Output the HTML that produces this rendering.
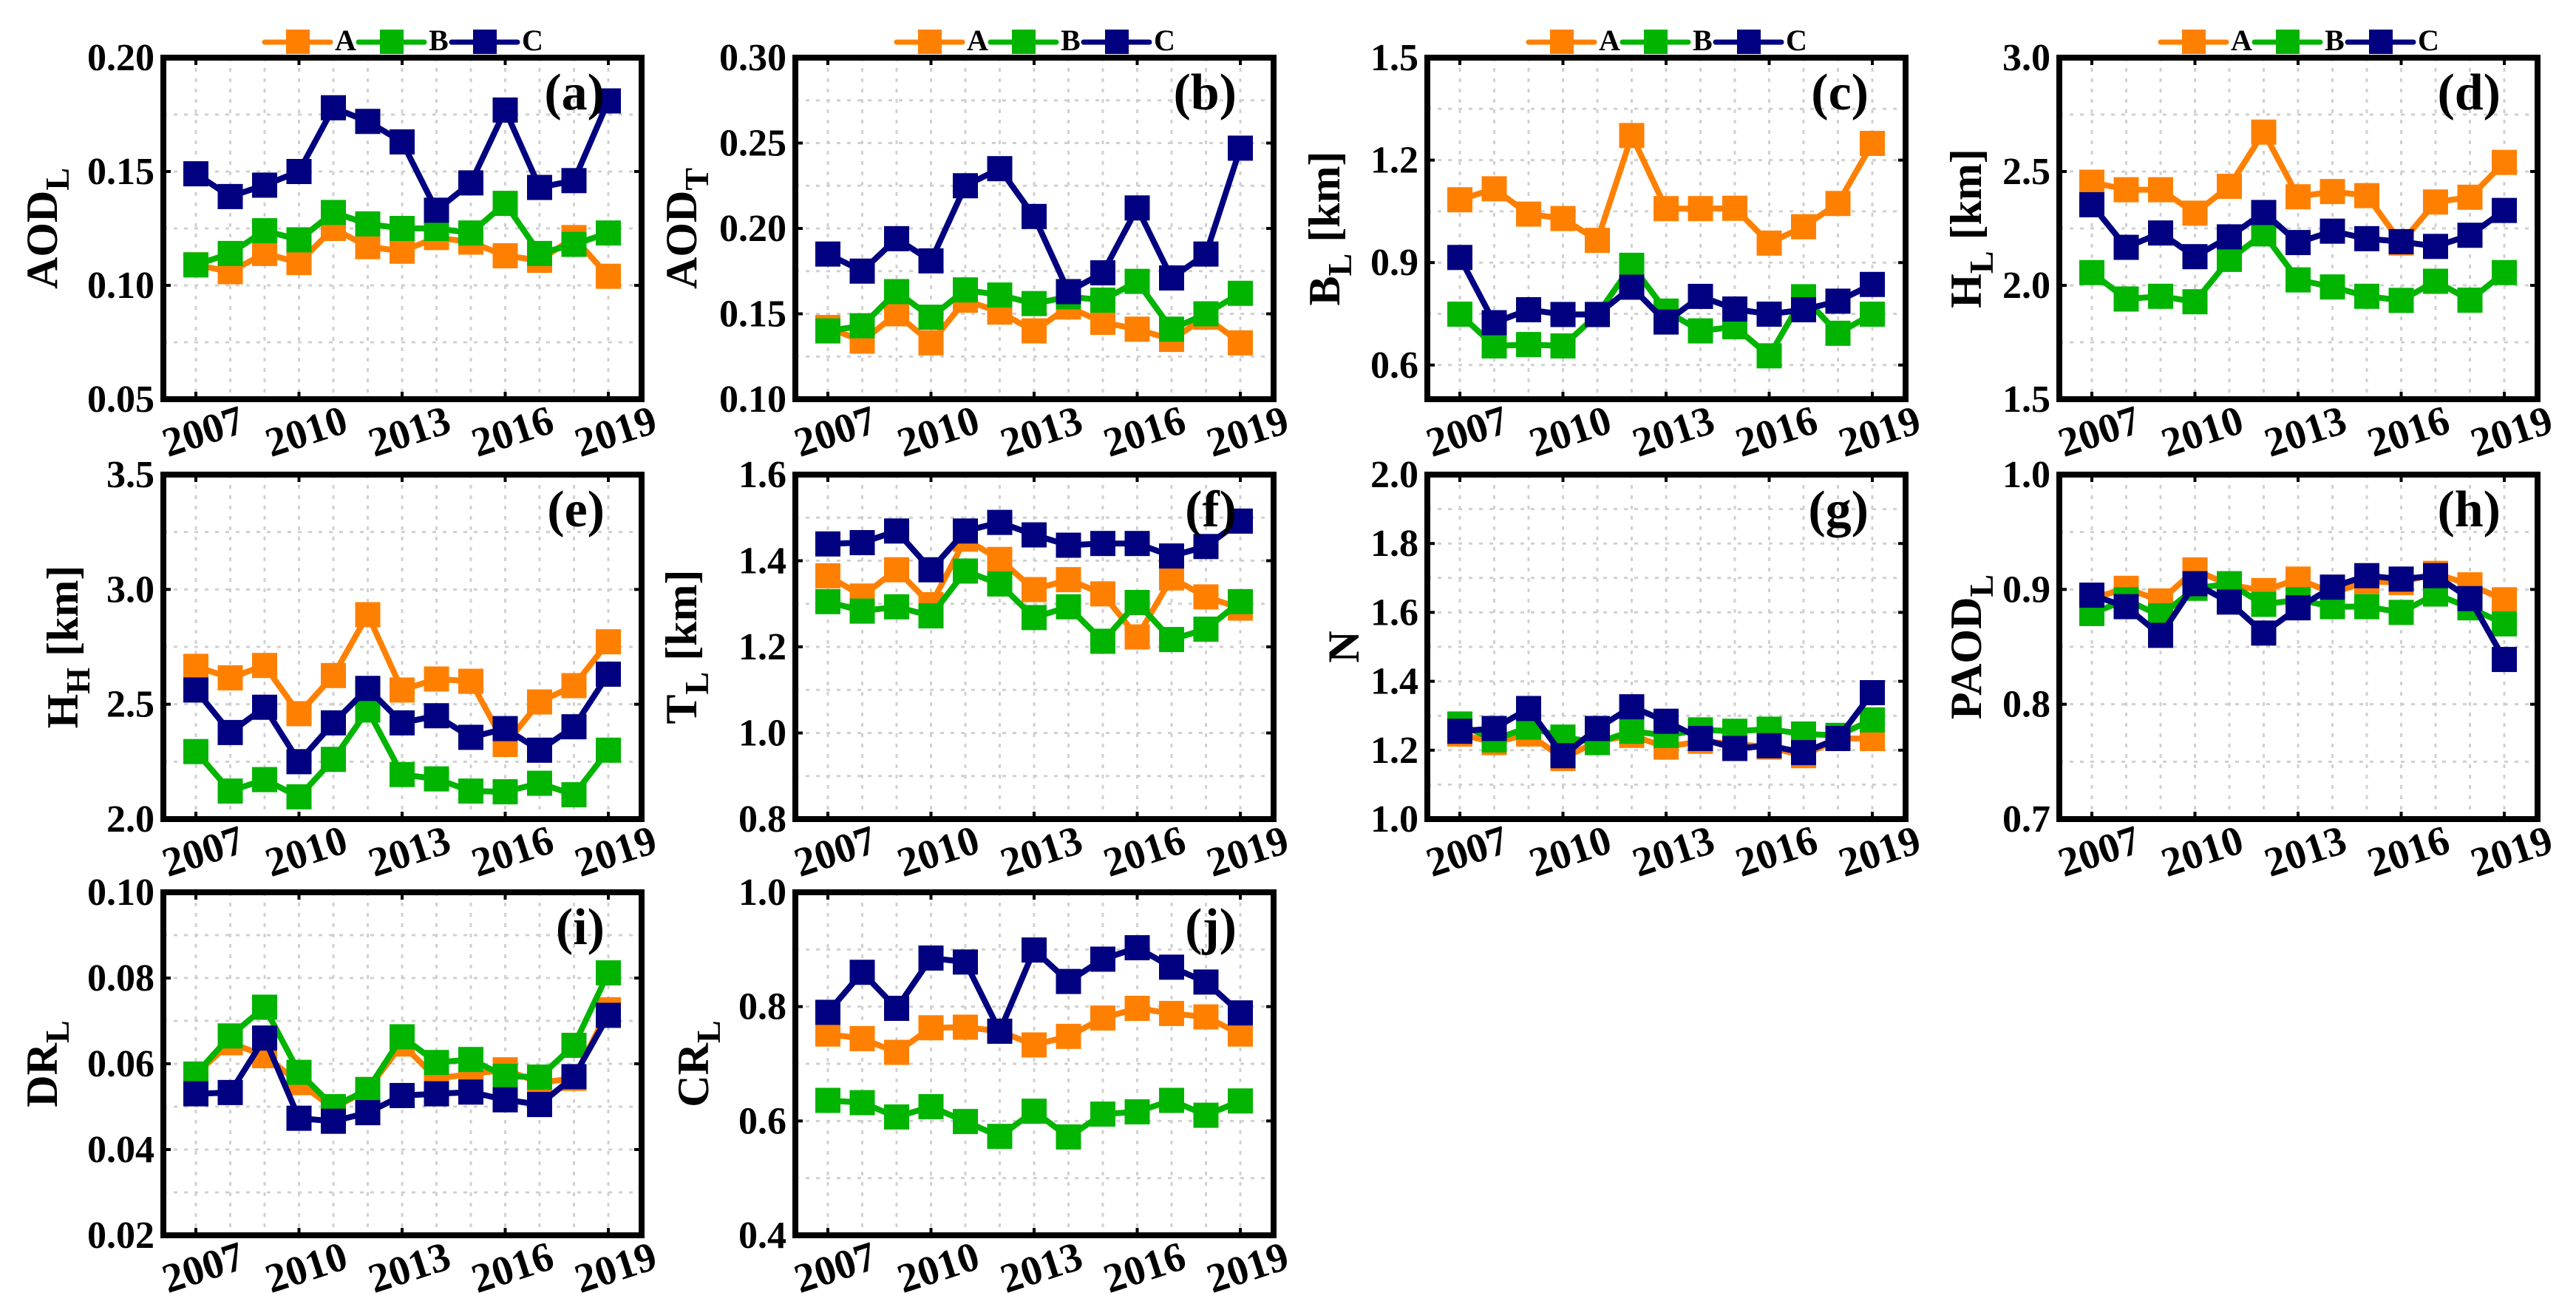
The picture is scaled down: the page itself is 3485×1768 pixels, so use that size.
<!DOCTYPE html>
<html><head><meta charset="utf-8"><style>
html,body{margin:0;padding:0;background:#fff;}
svg{display:block;}
svg text{font-family:"Liberation Serif","DejaVu Serif","Times New Roman",serif;font-weight:bold;}
</style></head><body>
<svg id="fig" width="3485" height="1768" viewBox="0 0 3485 1768" xmlns="http://www.w3.org/2000/svg" font-family="Liberation Serif, DejaVu Serif, serif" font-weight="bold"></svg>
<script>
const years = [2007,2008,2009,2010,2011,2012,2013,2014,2015,2016,2017,2018,2019];
const yearLabels = [2007,2010,2013,2016,2019];
const seriesNames = ["A","B","C"];
const a_A=[0.109,0.106,0.114,0.110,0.125,0.117,0.115,0.121,0.119,0.113,0.111,0.121,0.104];
const a_B=[0.109,0.114,0.124,0.120,0.132,0.127,0.125,0.125,0.123,0.136,0.114,0.118,0.123];
const a_C=[0.149,0.139,0.144,0.150,0.178,0.172,0.163,0.133,0.145,0.177,0.143,0.146,0.181];
const b_A=[0.142,0.134,0.150,0.133,0.158,0.151,0.140,0.154,0.145,0.141,0.135,0.148,0.133];
const b_B=[0.140,0.143,0.163,0.148,0.164,0.161,0.156,0.160,0.158,0.169,0.141,0.150,0.162];
const b_C=[0.185,0.175,0.194,0.181,0.225,0.235,0.207,0.163,0.174,0.212,0.171,0.185,0.247];
const c_A=[1.084,1.116,1.042,1.029,0.965,1.272,1.058,1.058,1.059,0.957,1.005,1.073,1.249];
const c_B=[0.749,0.656,0.660,0.656,0.748,0.892,0.758,0.700,0.712,0.627,0.800,0.693,0.749];
const c_C=[0.915,0.724,0.762,0.748,0.748,0.828,0.726,0.801,0.764,0.749,0.762,0.787,0.836];
const d_A=[2.453,2.420,2.420,2.317,2.435,2.673,2.389,2.412,2.394,2.186,2.366,2.387,2.540];
const d_B=[2.056,1.940,1.952,1.928,2.114,2.226,2.024,1.993,1.952,1.934,2.018,1.935,2.056];
const d_C=[2.354,2.167,2.230,2.126,2.213,2.320,2.188,2.238,2.205,2.192,2.171,2.220,2.329];
const e_A=[2.665,2.615,2.669,2.459,2.625,2.890,2.562,2.610,2.600,2.325,2.510,2.581,2.772];
const e_B=[2.294,2.122,2.172,2.097,2.260,2.475,2.194,2.175,2.122,2.119,2.156,2.106,2.300];
const e_C=[2.562,2.377,2.487,2.250,2.419,2.569,2.419,2.450,2.356,2.394,2.300,2.402,2.631];
const f_A=[1.365,1.318,1.379,1.298,1.450,1.403,1.333,1.356,1.323,1.223,1.360,1.316,1.290];
const f_B=[1.305,1.283,1.293,1.272,1.376,1.346,1.268,1.293,1.213,1.303,1.217,1.241,1.305];
const f_C=[1.439,1.442,1.469,1.379,1.469,1.489,1.460,1.436,1.440,1.440,1.411,1.433,1.492];
const g_A=[1.247,1.222,1.247,1.176,1.226,1.243,1.209,1.226,1.218,1.209,1.184,1.234,1.234];
const g_B=[1.276,1.230,1.267,1.238,1.222,1.255,1.243,1.259,1.255,1.261,1.247,1.243,1.288];
const g_C=[1.255,1.263,1.321,1.184,1.263,1.326,1.284,1.234,1.205,1.213,1.193,1.234,1.367];
const h_A=[0.892,0.901,0.890,0.917,0.904,0.899,0.909,0.897,0.907,0.906,0.914,0.904,0.891];
const h_B=[0.879,0.891,0.877,0.901,0.905,0.887,0.891,0.885,0.885,0.880,0.896,0.884,0.870];
const h_C=[0.895,0.885,0.860,0.905,0.889,0.862,0.884,0.902,0.912,0.909,0.912,0.892,0.839];
const i_A=[0.0576,0.0649,0.0619,0.0556,0.0496,0.0540,0.0646,0.0566,0.0576,0.0586,0.0556,0.0566,0.0726];
const i_B=[0.0576,0.0665,0.0732,0.0580,0.0500,0.0540,0.0663,0.0603,0.0610,0.0571,0.0569,0.0643,0.0812];
const i_C=[0.0530,0.0533,0.0660,0.0473,0.0466,0.0486,0.0526,0.0530,0.0534,0.0516,0.0505,0.0570,0.0713];
const j_A=[0.752,0.744,0.720,0.763,0.764,0.757,0.733,0.748,0.780,0.797,0.788,0.782,0.752];
const j_B=[0.636,0.632,0.607,0.625,0.599,0.573,0.617,0.572,0.612,0.616,0.636,0.610,0.635];
const j_C=[0.790,0.860,0.797,0.885,0.878,0.757,0.899,0.844,0.883,0.903,0.869,0.843,0.789];
const a_ticks=["0.05","0.10","0.15","0.20"];
const b_ticks=["0.10","0.15","0.20","0.25","0.30"];
const c_ticks=["0.6","0.9","1.2","1.5"];
const d_ticks=["1.5","2.0","2.5","3.0"];
const e_ticks=["2.0","2.5","3.0","3.5"];
const f_ticks=["0.8","1.0","1.2","1.4","1.6"];
const g_ticks=["1.0","1.2","1.4","1.6","1.8","2.0"];
const h_ticks=["0.7","0.8","0.9","1.0"];
const i_ticks=["0.02","0.04","0.06","0.08","0.10"];
const j_ticks=["0.4","0.6","0.8","1.0"];

const NS="http://www.w3.org/2000/svg";
const svg=document.getElementById('fig');
const colors=["#FF8000","#00B400","#000080"];
const FF="Liberation Serif, DejaVu Serif, serif";
function mk(tag,attrs,parent){const e=document.createElementNS(NS,tag);for(const k in attrs)e.setAttribute(k,attrs[k]);if(tag==='text'){e.setAttribute('font-family',FF);e.setAttribute('font-weight','bold');}(parent||svg).appendChild(e);return e;}

const colX=[221,1076,1931,2786], rowTop=[78,642,1207], rowBot=[540,1108,1671], W=647;
const panels=[
 {id:"a",c:0,r:0,min:0.05,max:0.20,grid:0.025,ticks:a_ticks,data:[a_A,a_B,a_C],title:"AOD",sub:"L",unit:"",tx:-144,legend:true},
 {id:"b",c:1,r:0,min:0.10,max:0.30,grid:0.025,ticks:b_ticks,data:[b_A,b_B,b_C],title:"AOD",sub:"T",unit:"",tx:-134,legend:true},
 {id:"c",c:2,r:0,min:0.5,max:1.5,grid:0.15,gridStart:0.6,ticks:c_ticks,data:[c_A,c_B,c_C],title:"B",sub:"L",unit:" [km]",tx:-119,legend:true},
 {id:"d",c:3,r:0,min:1.5,max:3.0,grid:0.25,ticks:d_ticks,data:[d_A,d_B,d_C],title:"H",sub:"L",unit:" [km]",tx:-106,legend:true},
 {id:"e",c:0,r:1,min:2.0,max:3.5,grid:0.25,ticks:e_ticks,data:[e_A,e_B,e_C],title:"H",sub:"H",unit:" [km]",tx:-116},
 {id:"f",c:1,r:1,min:0.8,max:1.6,grid:0.1,ticks:f_ticks,data:[f_A,f_B,f_C],title:"T",sub:"L",unit:" [km]",tx:-134},
 {id:"g",c:2,r:1,min:1.0,max:2.0,grid:0.1,ticks:g_ticks,data:[g_A,g_B,g_C],title:"N",sub:"",unit:"",tx:-93},
 {id:"h",c:3,r:1,min:0.7,max:1.0,grid:0.05,ticks:h_ticks,data:[h_A,h_B,h_C],title:"PAOD",sub:"L",unit:"",tx:-106},
 {id:"i",c:0,r:2,min:0.02,max:0.10,grid:0.01,ticks:i_ticks,data:[i_A,i_B,i_C],title:"DR",sub:"L",unit:"",tx:-144},
 {id:"j",c:1,r:2,min:0.4,max:1.0,grid:0.1,ticks:j_ticks,data:[j_A,j_B,j_C],title:"CR",sub:"L",unit:"",tx:-118}
];

panels.forEach(p=>{
  const L=colX[p.c], T=rowTop[p.r], B=rowBot[p.r], R=L+W;
  const x0=L+44, x1=R-45;
  const xs=yr=>x0+(yr-years[0])/(years[years.length-1]-years[0])*(x1-x0);
  const ys=v=>B-(v-p.min)/(p.max-p.min)*(B-T);
  const g=mk('g',{});
  
  
  years.forEach(yr=>{
    const l=mk('line',{x1:xs(yr),x2:xs(yr),y1:T,y2:B,stroke:"#d0d0d0","stroke-width":3,"stroke-dasharray":"5 9"},g);
    
    
  });
  const gs=p.gridStart!==undefined?p.gridStart:p.min;
  for(let v=gs;v<=p.max+1e-9;v+=p.grid){
    const l=mk('line',{x1:L,x2:R,y1:ys(v),y2:ys(v),stroke:"#d0d0d0","stroke-width":3,"stroke-dasharray":"5 9"},g);
    
    
  }
  p.data.forEach((arr,si)=>{
    const sg=mk('g',{},g);
    
    
    const pts=arr.map((v,k)=>xs(years[k])+','+ys(v)).join(' ');
    const pl=mk('polyline',{points:pts,fill:"none",stroke:colors[si],"stroke-width":8,"stroke-linejoin":"round"},sg);
    
    
    arr.forEach((v,k)=>{
      const r=mk('rect',{x:xs(years[k])-17,y:ys(v)-17,width:34,height:34,fill:colors[si]},sg);
      
      
    });
  });
  const fr=mk('rect',{x:L,y:T,width:W,height:B-T,fill:"none",stroke:"#000","stroke-width":8},g);
  
  
  p.ticks.forEach(t=>{
    const v=parseFloat(t), y=ys(v);
    mk('line',{x1:L,x2:L+10,y1:y,y2:y,stroke:"#000","stroke-width":4},g);
    mk('line',{x1:R-10,x2:R,y1:y,y2:y,stroke:"#000","stroke-width":4},g);
    const tx=mk('text',{x:L-12,y:y+17,"text-anchor":"end","font-size":52},g);
    tx.textContent=t;
    
    
  });
  yearLabels.forEach(yr=>{
    const x=xs(yr);
    mk('line',{x1:x,x2:x,y1:B,y2:B-10,stroke:"#000","stroke-width":4},g);
    mk('line',{x1:x,x2:x,y1:T,y2:T+10,stroke:"#000","stroke-width":4},g);
    const cx=x+10, cy=B+44;
    const tx=mk('text',{x:cx,y:cy+18,"text-anchor":"middle","font-size":56,transform:`rotate(-18 ${cx} ${cy})`},g);
    tx.textContent=yr;
    
    
  });
  const bx=L+p.tx, by=(T+B)/2;
  const tt=mk('text',{x:bx,y:by,"text-anchor":"middle","font-size":60,transform:`rotate(-90 ${bx} ${by})`},g);
  
  
  tt.appendChild(document.createTextNode(p.title));
  if(p.sub){const s=mk('tspan',{dy:16,"font-size":46},tt);s.textContent=p.sub;}
  if(p.unit){const u=mk('tspan',{dy:p.sub?-16:0},tt);u.textContent=p.unit;}
  const pl=mk('text',{x:R-50,y:T+70,"text-anchor":"end","font-size":70},g);
  pl.textContent='('+p.id+')';
  
  
  if(p.legend){
    const lg=mk('g',{},g);
    
    
    const offs=[137,264,390];
    seriesNames.forEach((n,si)=>{
      const e=mk('g',{},lg);
      
      
      const lx=L+offs[si], ly=57;
      mk('line',{x1:lx,x2:lx+89,y1:ly,y2:ly,stroke:colors[si],"stroke-width":7,"stroke-linecap":"round"},e);
      mk('rect',{x:lx+29,y:ly-17,width:32,height:33,fill:colors[si]},e);
      const t=mk('text',{x:lx+95,y:68,"font-size":40},e);
      t.textContent=n;
    });
  }
});
</script>
</body></html>
